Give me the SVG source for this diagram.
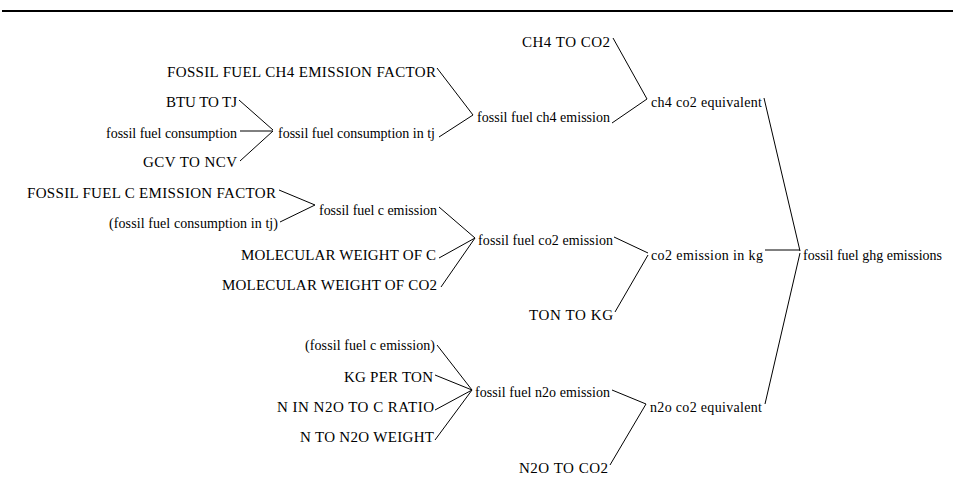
<svg xmlns="http://www.w3.org/2000/svg" width="953" height="491" viewBox="0 0 953 491">
<style>
.c line{stroke:#000;stroke-width:1;fill:none}
.rule{stroke:#000;stroke-width:2}
</style>
<rect width="953" height="491" fill="#fff"/>
<line class="rule" x1="2" y1="11" x2="953" y2="11"/>
<g class="c" id="connectors">
<line x1="437" y1="68" x2="473" y2="115"/>
<line x1="439" y1="137" x2="473" y2="115"/>
<line x1="239" y1="100" x2="273" y2="130"/>
<line x1="240" y1="131" x2="273" y2="131"/>
<line x1="240" y1="161" x2="273" y2="131"/>
<line x1="612" y1="123" x2="647" y2="99"/>
<line x1="613" y1="38" x2="647" y2="99"/>
<line x1="764" y1="98" x2="800" y2="251"/>
<line x1="279" y1="190" x2="315" y2="205"/>
<line x1="280" y1="222" x2="315" y2="205"/>
<line x1="439" y1="207" x2="475" y2="238"/>
<line x1="439" y1="258" x2="475" y2="238"/>
<line x1="441" y1="287" x2="475" y2="238"/>
<line x1="614" y1="237" x2="648" y2="253"/>
<line x1="615" y1="312" x2="648" y2="255"/>
<line x1="765" y1="250" x2="800" y2="250"/>
<line x1="765" y1="404" x2="800" y2="253"/>
<line x1="437" y1="345" x2="472" y2="390"/>
<line x1="435" y1="375" x2="472" y2="390"/>
<line x1="435" y1="410" x2="472" y2="390"/>
<line x1="435" y1="440" x2="472" y2="390"/>
<line x1="612" y1="390" x2="646" y2="404"/>
<line x1="610" y1="465" x2="646" y2="404"/>
</g>
<g id="nodes" font-family="Liberation Serif" font-size="14" fill="#000">
<g id="n_ch4_ef"><text x="167" y="77" font-size="15" textLength="269">FOSSIL FUEL CH4 EMISSION FACTOR</text></g>
<g id="n_btu"><text x="166" y="107" font-size="15" textLength="71">BTU TO TJ</text></g>
<g id="n_cons"><text x="106" y="138" textLength="131">fossil fuel consumption</text></g>
<g id="n_gcv"><text x="143" y="167" font-size="15" textLength="94">GCV TO NCV</text></g>
<g id="n_cons_tj"><text x="278" y="138" textLength="157">fossil fuel consumption in tj</text></g>
<g id="n_ch4_em"><text x="477" y="122" textLength="133">fossil fuel ch4 emission</text></g>
<g id="n_ch4_co2"><text x="522" y="47" font-size="15" textLength="88">CH4 TO CO2</text></g>
<g id="n_ch4_eq"><text x="651" y="107" textLength="111">ch4 co2 equivalent</text></g>
<g id="n_c_ef"><text x="27" y="198" font-size="15" textLength="249">FOSSIL FUEL C EMISSION FACTOR</text></g>
<g id="n_cons_tj_shadow"><text x="109" y="228" textLength="169">(fossil fuel consumption in tj)</text></g>
<g id="n_c_em"><text x="319" y="215" textLength="118">fossil fuel c emission</text></g>
<g id="n_mw_c"><text x="241" y="260" font-size="15" textLength="195">MOLECULAR WEIGHT OF C</text></g>
<g id="n_mw_co2"><text x="222" y="290" font-size="15" textLength="215">MOLECULAR WEIGHT OF CO2</text></g>
<g id="n_co2_em"><text x="478" y="245" textLength="135">fossil fuel co2 emission</text></g>
<g id="n_co2_kg"><text x="651" y="260" textLength="112">co2 emission in kg</text></g>
<g id="n_ton_kg"><text x="529" y="320" font-size="15" textLength="84">TON TO KG</text></g>
<g id="n_ghg"><text x="803" y="260" textLength="139">fossil fuel ghg emissions</text></g>
<g id="n_c_em_shadow"><text x="305" y="350" textLength="130">(fossil fuel c emission)</text></g>
<g id="n_kg_ton"><text x="344" y="382" font-size="15" textLength="89">KG PER TON</text></g>
<g id="n_n_ratio"><text x="277" y="412" font-size="15" textLength="157">N IN N2O TO C RATIO</text></g>
<g id="n_n_weight"><text x="300" y="442" font-size="15" textLength="134">N TO N2O WEIGHT</text></g>
<g id="n_n2o_em"><text x="475" y="397" textLength="135">fossil fuel n2o emission</text></g>
<g id="n_n2o_co2"><text x="519" y="473" font-size="15" textLength="89">N2O TO CO2</text></g>
<g id="n_n2o_eq"><text x="650" y="412" textLength="112">n2o co2 equivalent</text></g>
</g>
</svg>
